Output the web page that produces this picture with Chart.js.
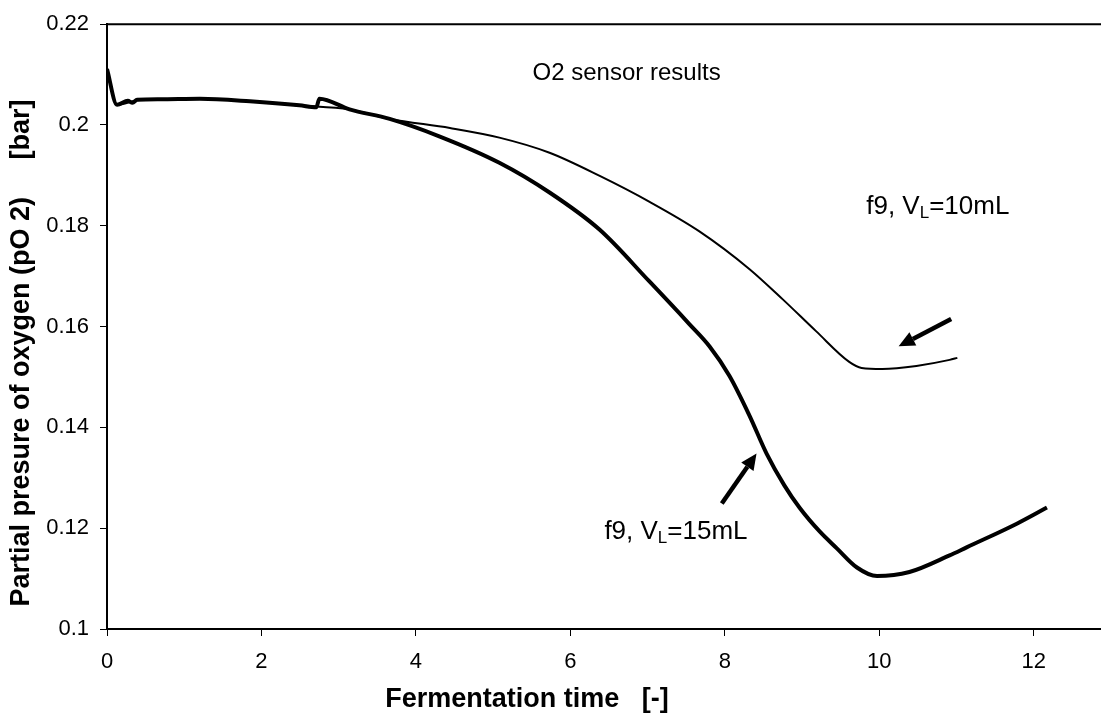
<!DOCTYPE html>
<html>
<head>
<meta charset="utf-8">
<script src="https://cdn.jsdelivr.net/npm/chart.js@4.4.0/dist/chart.umd.min.js"></script>
<style>
  html, body { margin: 0; padding: 0; background: #fff; }
  canvas { display: block; }
</style>
</head>
<body>
<canvas id="chart" width="1101" height="719"></canvas>
<script>
// fermentation time / pO2, VL = 15 mL
const timeVL15 = [0, 0.13, 0.27, 0.33, 0.39, 0.68, 1.20, 1.85, 2.49, 2.71, 2.75, 3.14, 3.66, 4.31, 5.08, 5.73, 6.38, 7.02, 7.54, 7.80, 8.06, 8.32, 8.54, 8.77, 8.97, 9.23, 9.45, 9.71, 9.97, 10.39, 10.91, 11.13, 11.78, 12.17];
const pO2VL15 = [0.2111, 0.2040, 0.2048, 0.2044, 0.2050, 0.2051, 0.2052, 0.2047, 0.2039, 0.2035, 0.2052, 0.2031, 0.2012, 0.1977, 0.1925, 0.1866, 0.1792, 0.1690, 0.1605, 0.1561, 0.1502, 0.1423, 0.1348, 0.1285, 0.1240, 0.1193, 0.1160, 0.1122, 0.1105, 0.1113, 0.1146, 0.1162, 0.1209, 0.1241];

// fermentation time / pO2, VL = 10 mL
const timeVL10 = [0, 0.13, 0.39, 0.68, 1.20, 1.85, 2.49, 3.14, 3.66, 4.44, 5.08, 5.73, 6.38, 7.02, 7.67, 8.32, 8.75, 9.18, 9.61, 9.77, 10.04, 10.48, 10.91, 11.01];
const pO2VL10 = [0.2111, 0.2040, 0.2049, 0.2051, 0.2052, 0.2047, 0.2039, 0.2031, 0.2012, 0.1994, 0.1975, 0.1945, 0.1899, 0.1848, 0.1789, 0.1714, 0.1654, 0.1591, 0.1530, 0.1518, 0.1516, 0.1522, 0.1534, 0.1538];

const xTicks = [0, 2, 4, 6, 8, 10, 12];
const yTicks = [0.1, 0.12, 0.14, 0.16, 0.18, 0.2, 0.22];

const toPoints = (xs, ys) => xs.map((x, i) => ({ x: x, y: ys[i] }));

const FONT = '"Liberation Sans", Arial, sans-serif';

// annotation texts and arrows, in data units
const notes = [
    { x: 5.51, y: 0.2089, size: 24, main: 'O2 sensor results' },
    { x: 9.83, y: 0.1824, size: 26, main: 'f9, V', sub: 'L', rest: '=10mL' },
    { x: 6.44, y: 0.1178, size: 26, main: 'f9, V', sub: 'L', rest: '=15mL' }
];
const arrows = [
    { from: [10.93, 0.1615], to: [10.25, 0.1561] },
    { from: [7.96, 0.1249], to: [8.41, 0.1348] }
];

const decor = {
    id: 'decor',
    afterDatasetsDraw(chart) {
        const { ctx, chartArea, scales } = chart;
        const sx = scales.x, sy = scales.y;
        ctx.save();
        // top frame line
        ctx.strokeStyle = '#000';
        ctx.lineWidth = 2;
        ctx.beginPath();
        ctx.moveTo(chartArea.left, chartArea.top);
        ctx.lineTo(chartArea.right, chartArea.top);
        ctx.stroke();

        ctx.fillStyle = '#000';
        ctx.textBaseline = 'alphabetic';
        ctx.textAlign = 'left';
        notes.forEach(n => {
            let px = sx.getPixelForValue(n.x);
            const py = sy.getPixelForValue(n.y);
            ctx.font = n.size + 'px ' + FONT;
            ctx.fillText(n.main, px, py);
            px += ctx.measureText(n.main).width;
            if (n.sub) {
                ctx.font = '17px ' + FONT;
                ctx.fillText(n.sub, px, py + 4);
                px += ctx.measureText(n.sub).width;
                ctx.font = n.size + 'px ' + FONT;
                ctx.fillText(n.rest, px, py);
            }
        });

        arrows.forEach(a => {
            const x1 = sx.getPixelForValue(a.from[0]), y1 = sy.getPixelForValue(a.from[1]);
            const x2 = sx.getPixelForValue(a.to[0]), y2 = sy.getPixelForValue(a.to[1]);
            const ang = Math.atan2(y2 - y1, x2 - x1);
            const head = 16, half = 7.5;
            const bx = x2 - head * Math.cos(ang), by = y2 - head * Math.sin(ang);
            ctx.lineWidth = 4.5;
            ctx.beginPath();
            ctx.moveTo(x1, y1);
            ctx.lineTo(bx, by);
            ctx.stroke();
            ctx.beginPath();
            ctx.moveTo(x2, y2);
            ctx.lineTo(bx + half * Math.sin(ang), by - half * Math.cos(ang));
            ctx.lineTo(bx - half * Math.sin(ang), by + half * Math.cos(ang));
            ctx.closePath();
            ctx.fill();
        });

        // axis titles
        ctx.font = 'bold 27px ' + FONT;
        ctx.textAlign = 'center';
        ctx.textBaseline = 'middle';
        ctx.fillText('Fermentation time   [-]', 527, 700);
        ctx.translate(22, 353);
        ctx.rotate(-Math.PI / 2);
        ctx.fillText('Partial presure of oxygen (pO 2)     [bar]', 0, 0);
        ctx.restore();
    }
};

new Chart(document.getElementById('chart').getContext('2d'), {
    type: 'line',
    data: {
        datasets: [
            {
                label: 'f9, VL=15mL',
                data: toPoints(timeVL15, pO2VL15),
                borderColor: '#000',
                borderWidth: 4,
                pointRadius: 0,
                cubicInterpolationMode: 'monotone'
            },
            {
                label: 'f9, VL=10mL',
                data: toPoints(timeVL10, pO2VL10),
                borderColor: '#000',
                borderWidth: 2,
                pointRadius: 0,
                cubicInterpolationMode: 'monotone'
            }
        ]
    },
    options: {
        responsive: false,
        animation: false,
        layout: { padding: { top: 22, right: 0, left: 0, bottom: 0 } },
        plugins: { legend: { display: false }, tooltip: { enabled: false } },
        scales: {
            x: {
                type: 'linear',
                min: 0,
                max: 12.87,
                afterBuildTicks: s => { s.ticks = xTicks.map(v => ({ value: v })); },
                afterFit: s => { s.height = 90; },
                ticks: { color: '#000', font: { family: FONT, size: 22 }, padding: 13, maxRotation: 0 },
                grid: { drawOnChartArea: false, color: '#000', tickLength: 7, lineWidth: 1 },
                border: { color: '#000', width: 2 }
            },
            y: {
                min: 0.1,
                max: 0.22,
                afterBuildTicks: s => { s.ticks = yTicks.map(v => ({ value: v })); },
                afterFit: s => { s.width = 107; },
                ticks: {
                    color: '#000',
                    font: { family: FONT, size: 22 },
                    padding: 11,
                    callback: v => String(+v.toFixed(2))
                },
                grid: { drawOnChartArea: false, color: '#000', tickLength: 7, lineWidth: 1 },
                border: { color: '#000', width: 2 }
            }
        }
    },
    plugins: [decor]
});
</script>
</body>
</html>
